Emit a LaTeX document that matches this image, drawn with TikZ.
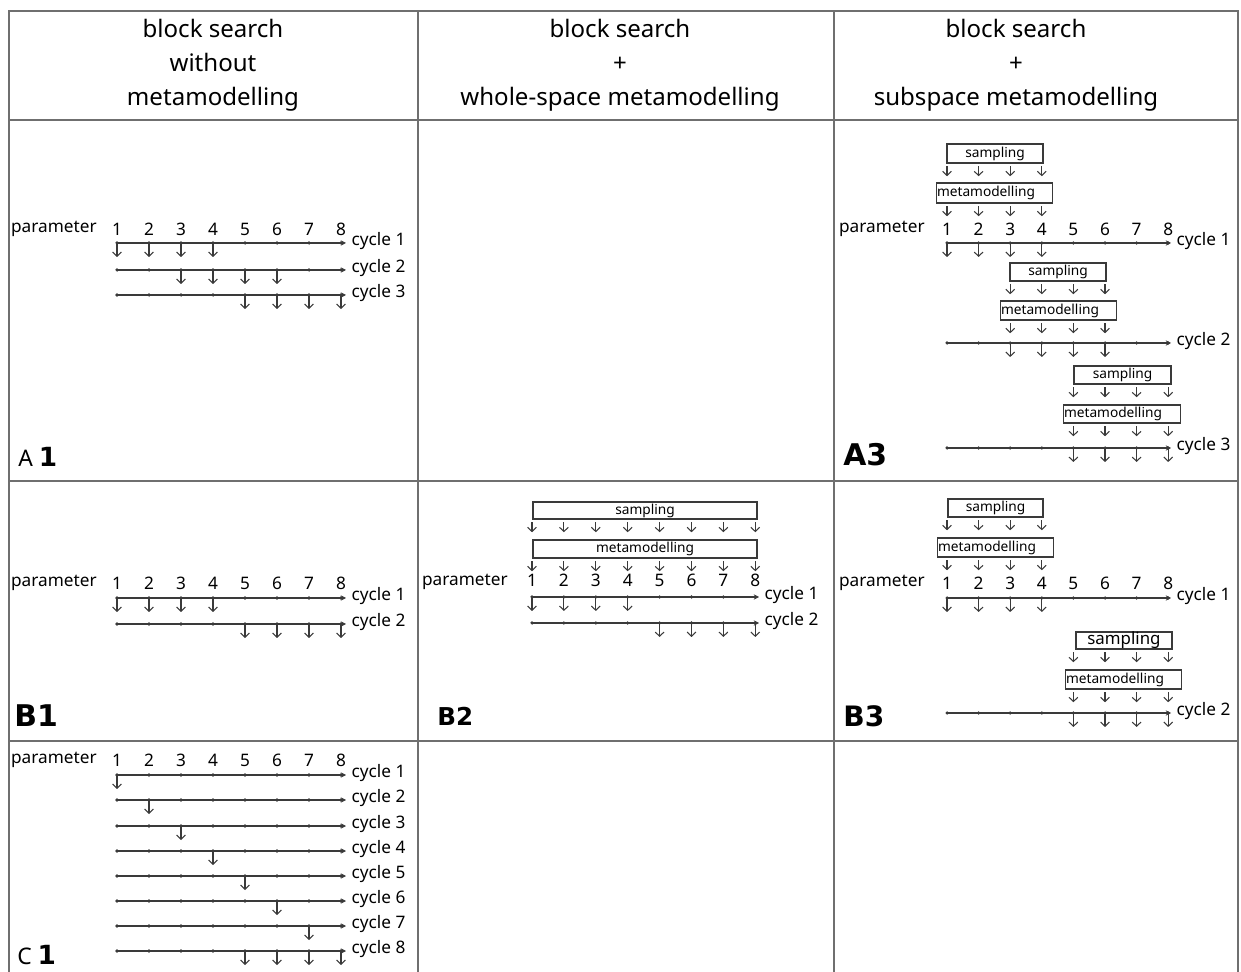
\documentclass[tikz,border=0pt]{standalone}
\usepackage{fontspec}
\setmainfont{Noto Sans}
\newfontfamily\handfont{DejaVu Sans Bold}
\usepackage{tikz}
\usetikzlibrary{arrows.meta}
\definecolor{table-gray}{HTML}{6f6f6f}
\definecolor{axis-gray}{HTML}{3a3a3a}

\begin{document}
\begin{tikzpicture}[x=0.02cm, y=-0.02cm,
    grid/.style={draw=table-gray, line width=1.4pt},
    axis/.style={draw=axis-gray, line width=0.9pt, -{Stealth[length=3pt, width=3pt]}},
    tick/.style={fill=axis-gray},
    darr/.style={draw=axis-gray, line width=0.6pt, -{Straight Barb[length=2.4pt, width=5pt]}},
    num/.style={inner sep=0pt, font=\fontsize{9.8}{11}\selectfont},
    param/.style={num, anchor=east},
    cyclelbl/.style={num, anchor=west, xshift=3pt, yshift=1pt},
    sbox/.style={draw=axis-gray, line width=0.7pt, inner sep=0pt, font=\fontsize{7.8}{9}\selectfont},
    mbox/.style={sbox, inner xsep=0.5pt, text width=#1, align=left},
    head/.style={align=center, font=\fontsize{13.7}{19.3}\selectfont},
    hand/.style={anchor=west, inner sep=0pt, font=\fontsize{17}{17}\handfont}
]
\useasboundingbox (0,0) rectangle (1241,972);

% Table
\draw[grid] (9,972) -- (9,11) -- (1238,11) -- (1238,972);
\draw[grid] (9,120) -- (1238,120);
\draw[grid] (9,481) -- (1238,481);
\draw[grid] (9,741) -- (1238,741);
\draw[grid] (418,11) -- (418,972);
\draw[grid] (834,11) -- (834,972);

% Headers
\node[head] (h1) at (213,65) {block search\\without\\metamodelling};
\node[head] (h2) at (620,65) {block search\\+\\whole-space metamodelling};
\node[head] (h3) at (1016,65) {block search\\+\\subspace metamodelling};

% Cell labels
\node[anchor=west, inner sep=0pt, font=\fontsize{13}{13}\selectfont] (a1lbl) at (18,457) {A {\fontsize{15}{15}\handfont 1}};
\node[hand] (b1lbl) at (14,716) {B1};
\node[hand, font=\fontsize{14}{14}\handfont] (b2lbl) at (437,716) {B2};
\node[hand] (a3lbl) at (843,455) {A3};
\node[hand, font=\fontsize{16}{16}\handfont] (b3lbl) at (843,716) {B3};
\node[anchor=west, inner sep=0pt, font=\fontsize{13}{13}\selectfont] (c1lbl) at (17,955) {C {\fontsize{15}{15}\handfont 1}};

% A1
\node[param] (a1p) at (97,229) {parameter};
\foreach \k in {1,...,8} \node[num] (a1n\k) at ({117+32*(\k-1)},229) {\k};
\foreach \c/\y in {1/243,2/270,3/295} {
  \coordinate (a1s\c) at (117,\y);
  \coordinate (a1e\c) at (346,\y);
  \draw[axis] (a1s\c) -- (a1e\c);
  \node[cyclelbl] (a1l\c) at (a1e\c) {cycle \c};
  \foreach \k in {1,...,8} \fill[tick] (a1n\k |- a1s\c) circle (1pt);
}
\foreach \c/\k in {1/1,1/2,1/3,1/4,2/3,2/4,2/5,2/6,3/5,3/6,3/7,3/8}
  \draw[darr] (a1n\k |- a1s\c) -- ++(0,14);

% B1
\node[param] (b1p) at (97,583) {parameter};
\foreach \k in {1,...,8} \node[num] (b1n\k) at ({117+32*(\k-1)},583) {\k};
\foreach \c/\y in {1/598,2/624} {
  \coordinate (b1s\c) at (117,\y);
  \coordinate (b1e\c) at (346,\y);
  \draw[axis] (b1s\c) -- (b1e\c);
  \node[cyclelbl] (b1l\c) at (b1e\c) {cycle \c};
  \foreach \k in {1,...,8} \fill[tick] (b1n\k |- b1s\c) circle (1pt);
}
\foreach \c/\k in {1/1,1/2,1/3,1/4,2/5,2/6,2/7,2/8}
  \draw[darr] (b1n\k |- b1s\c) -- ++(0,14);

% C1
\node[param] (c1p) at (97,760) {parameter};
\foreach \k in {1,...,8} \node[num] (c1n\k) at ({117+32*(\k-1)},760) {\k};
\foreach \c/\y in {1/775,2/800,3/826,4/851,5/876,6/901,7/926,8/951} {
  \coordinate (c1s\c) at (117,\y);
  \coordinate (c1e\c) at (346,\y);
  \draw[axis] (c1s\c) -- (c1e\c);
  \node[cyclelbl] (c1l\c) at (c1e\c) {cycle \c};
  \foreach \k in {1,...,8} \fill[tick] (c1n\k |- c1s\c) circle (1pt);
}
\foreach \c/\k in {1/1,2/2,3/3,4/4,5/5,6/6,7/7,8/5,8/6,8/7,8/8}
  \draw[darr] (c1n\k |- c1s\c) -- ++(0,14);

% B2
\node[param] (b2p) at (508,582) {parameter};
\foreach \k in {1,...,8} \node[num] (b2n\k) at ({532+31.9*(\k-1)},580) {\k};
\node[sbox, minimum width=4.48cm, minimum height=0.34cm] (b2samp) at (645,510.5) {sampling};
\node[sbox, minimum width=4.48cm, minimum height=0.36cm] (b2meta) at (645,549) {metamodelling};
\foreach \k in {1,...,8} {
  \draw[darr] ([yshift=-1.5pt]b2samp.south -| b2n\k) -- ++(0,10);
  \draw[darr] ([yshift=-1.5pt]b2meta.south -| b2n\k) -- ++(0,10);
}
\foreach \c/\y in {1/597,2/623} {
  \coordinate (b2s\c) at (532,\y);
  \coordinate (b2e\c) at (759,\y);
  \draw[axis] (b2s\c) -- (b2e\c);
  \node[cyclelbl] (b2l\c) at (b2e\c) {cycle \c};
  \foreach \k in {1,...,8} \fill[tick] (b2n\k |- b2s\c) circle (1pt);
}
\foreach \c/\k in {1/1,1/2,1/3,1/4,2/5,2/6,2/7,2/8}
  \draw[darr] (b2n\k |- b2s\c) -- ++(0,14);

% A3
\node[param] (a3p) at (925,229) {parameter};
\foreach \k in {1,...,8} \node[num] (a3n\k) at ({947+31.6*(\k-1)},229) {\k};
\node[sbox, minimum width=1.92cm, minimum height=0.38cm] (a3samp1) at (995,153.5) {sampling};
\node[mbox=2.3cm, minimum height=0.4cm] (a3meta1) at (994.5,193) {metamodelling};
\node[sbox, minimum width=1.92cm, minimum height=0.36cm] (a3samp2) at (1058,272) {sampling};
\node[mbox=2.3cm, minimum height=0.38cm] (a3meta2) at (1058.5,310.5) {metamodelling};
\node[sbox, minimum width=1.94cm, minimum height=0.36cm] (a3samp3) at (1122.5,375) {sampling};
\node[mbox=2.32cm, minimum height=0.36cm] (a3meta3) at (1122,414) {metamodelling};
\foreach \b/\f/\l in {1/1/4,2/3/6,3/5/8} {
  \foreach \k in {\f,...,\l} {
    \draw[darr] ([yshift=-1.5pt]a3samp\b.south -| a3n\k) -- ++(0,10);
    \draw[darr] ([yshift=-1.5pt]a3meta\b.south -| a3n\k) -- ++(0,10);
  }
}
\foreach \c/\y in {1/243,2/343,3/448} {
  \coordinate (a3s\c) at (947,\y);
  \coordinate (a3e\c) at (1171,\y);
  \draw[axis] (a3s\c) -- (a3e\c);
  \node[cyclelbl] (a3l\c) at (a3e\c) {cycle \c};
  \foreach \k in {1,...,8} \fill[tick] (a3n\k |- a3s\c) circle (1pt);
}
\foreach \c/\k in {1/1,1/2,1/3,1/4,2/3,2/4,2/5,2/6,3/5,3/6,3/7,3/8}
  \draw[darr] (a3n\k |- a3s\c) -- ++(0,14);

% B3
\node[param] (b3p) at (925,583) {parameter};
\foreach \k in {1,...,8} \node[num] (b3n\k) at ({947+31.6*(\k-1)},583) {\k};
\node[sbox, minimum width=1.9cm, minimum height=0.36cm] (b3samp1) at (995.5,508) {sampling};
\node[mbox=2.3cm, minimum height=0.38cm] (b3meta1) at (995.5,547.5) {metamodelling};
\node[sbox, minimum width=1.92cm, minimum height=0.34cm, font=\fontsize{9.6}{10}\selectfont] (b3samp2) at (1124,640.5) {sampling};
\node[mbox=2.3cm, minimum height=0.38cm] (b3meta2) at (1123.5,679.5) {metamodelling};
\foreach \b/\f/\l in {1/1/4,2/5/8} {
  \foreach \k in {\f,...,\l} {
    \draw[darr] ([yshift=-1.5pt]b3samp\b.south -| b3n\k) -- ++(0,10);
    \draw[darr] ([yshift=-1.5pt]b3meta\b.south -| b3n\k) -- ++(0,10);
  }
}
\foreach \c/\y in {1/598,2/713} {
  \coordinate (b3s\c) at (947,\y);
  \coordinate (b3e\c) at (1171,\y);
  \draw[axis] (b3s\c) -- (b3e\c);
  \node[cyclelbl] (b3l\c) at (b3e\c) {cycle \c};
  \foreach \k in {1,...,8} \fill[tick] (b3n\k |- b3s\c) circle (1pt);
}
\foreach \c/\k in {1/1,1/2,1/3,1/4,2/5,2/6,2/7,2/8}
  \draw[darr] (b3n\k |- b3s\c) -- ++(0,14);

\end{tikzpicture}
\end{document}
